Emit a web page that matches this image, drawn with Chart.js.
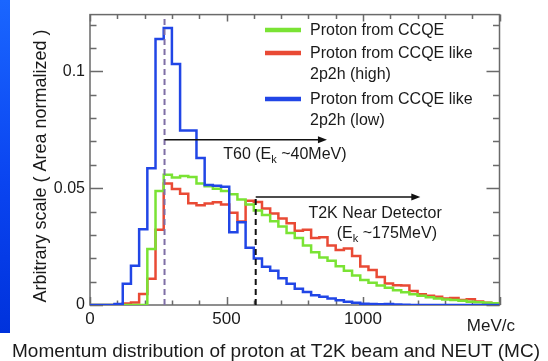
<!DOCTYPE html>
<html>
<head>
<meta charset="utf-8">
<script src="https://cdn.jsdelivr.net/npm/chart.js@4.4.1/dist/chart.umd.min.js"></script>
<style>
  html, body { margin: 0; padding: 0; background: #fff; }
  #wrap { position: relative; width: 548px; height: 361px; overflow: hidden; }
  #side { position: absolute; left: 0; top: 0; width: 10px; height: 333px;
          background: linear-gradient(#1a66ff, #0a44f0 55%, #0032dc); }
  canvas { position: absolute; left: 0; top: 0; }
</style>
</head>
<body>
<div id="wrap">
  <canvas id="c" width="548" height="361"></canvas>
  <div id="side"></div>
</div>
<script>
// Proton momentum histograms, 30 MeV/c bins from 0 to 1500 MeV/c
const binEdges = [0,30,60,90,120,150,180,210,240,270,300,330,360,390,420,450,480,510,540,570,
  600,630,660,690,720,750,780,810,840,870,900,930,960,990,1020,1050,1080,1110,1140,1170,
  1200,1230,1260,1290,1320,1350,1380,1410,1440,1470,1500];

// Proton from CCQE
const ccqe = [0,0,0,0,0,0,0,0.0240,0.0488,0.0558,0.0546,0.0552,0.0548,0.0520,0.0508,0.0498,0.0488,0.0474,0.0452,0.0430,
  0.0405,0.0385,0.0358,0.0336,0.0308,0.0287,0.0255,0.0226,0.0203,0.0189,0.0166,0.0147,0.0126,0.0107,0.0095,0.0084,0.0074,0.0063,0.0055,0.0046,
  0.0040,0.0033,0.0028,0.0024,0.0021,0.0018,0.0014,0.0012,0.0010,0.0008];

// Proton from CCQE like 2p2h (high)
const p2h2High = [0,0,0,0.0003,0.0006,0.0011,0.0047,0.0112,0.0322,0.0520,0.0497,0.0476,0.0436,0.0427,0.0434,0.0440,0.0430,0.0395,0.0357,0.0446,
  0.0441,0.0413,0.0392,0.0370,0.0350,0.0318,0.0322,0.0287,0.0290,0.0255,0.0235,0.0242,0.0210,0.0165,0.0150,0.0120,0.0092,0.0085,0.0084,0.0060,
  0.0046,0.0040,0.0035,0.0028,0.0030,0.0021,0.0025,0.0015,0.0010,0.0007];

// Proton from CCQE like 2p2h (low)
const p2h2Low = [0,0,0,0.0004,0.0091,0.0168,0.0324,0.0585,0.1139,0.1186,0.1032,0.0747,0.0747,0.0629,0.0514,0.0510,0.0506,0.0311,0.0354,0.0245,
  0.0199,0.0164,0.0147,0.0115,0.0091,0.0070,0.0056,0.0042,0.0035,0.0028,0.0020,0.0014,0.0010,0.0005,0.0004,0.0003,0.0004,0.0002,0.0001,0,
  0,0,0,0,0,0,0,0,0,0];

const xTickValues = [0, 500, 1000];
const xTickLabels = ['0', '500', '1000'];
const yTickValues = [0, 0.05, 0.1];
const yTickLabels = ['0', '0.05', '0.1'];

const seriesNames = ['Proton from CCQE', 'Proton from CCQE like\n2p2h (high)', 'Proton from CCQE like\n2p2h (low)'];
const seriesColors = ['#7ae334', '#e94a35', '#2146e6'];

// Threshold momenta (MeV/c) for the two detectors
const t60Momentum = 273;
const ndMomentum = 607;

const X_MAX = 1500, Y_MAX = 0.1243;
const X_MINOR = 100, X_MAJOR = 500, Y_MINOR = 0.01, Y_MAJOR = 0.05;
const FONT = '"Liberation Sans", Arial, Helvetica, sans-serif';

function histPoints(values) {
  return binEdges.map((e, i) => ({ x: e, y: values[Math.min(i, values.length - 1)] }));
}

function arrow(ctx, x1, x2, y) {
  ctx.beginPath(); ctx.moveTo(x1, y); ctx.lineTo(x2 - 6, y); ctx.stroke();
  ctx.beginPath(); ctx.moveTo(x2, y); ctx.lineTo(x2 - 9, y - 3.5); ctx.lineTo(x2 - 9, y + 3.5); ctx.closePath(); ctx.fill();
}

function subText(ctx, x, y, parts) {
  // parts: [text, isSubscript]
  let cx = x;
  for (const [t, sub] of parts) {
    ctx.font = (sub ? '11px ' : '16px ') + FONT;
    ctx.fillText(t, cx, y + (sub ? 4 : 0));
    cx += ctx.measureText(t).width;
  }
}

const decor = {
  id: 'decor',
  beforeDatasetsDraw(chart) {
    const { ctx, chartArea: a, scales: { x, y } } = chart;
    ctx.save();
    ctx.strokeStyle = '#6a6a6a';
    ctx.lineWidth = 1.5;
    ctx.strokeRect(a.left, a.top, a.right - a.left, a.bottom - a.top);
    ctx.beginPath();
    for (let v = 0; v <= X_MAX; v += X_MINOR) {
      const px = Math.round(x.getPixelForValue(v)) + 0.5;
      const major = v % X_MAJOR === 0;
      ctx.moveTo(px, a.bottom); ctx.lineTo(px, a.bottom - (major ? 8 : 4.5));
      ctx.moveTo(px, a.top); ctx.lineTo(px, a.top + (major ? 7 : 4.5));
    }
    for (let i = 0; i * Y_MINOR <= Y_MAX; i++) {
      const v = i * Y_MINOR;
      const py = Math.round(y.getPixelForValue(v)) + 0.5;
      const major = i % Math.round(Y_MAJOR / Y_MINOR) === 0;
      ctx.moveTo(a.left, py); ctx.lineTo(a.left + (major ? 13 : 6.5), py);
      ctx.moveTo(a.right, py); ctx.lineTo(a.right - (major ? 13 : 6.5), py);
    }
    ctx.stroke();
    ctx.restore();
  },
  afterDatasetsDraw(chart) {
    const { ctx, chartArea: a, scales: { x, y } } = chart;
    ctx.save();

    // T60 threshold
    const xT60 = x.getPixelForValue(t60Momentum);
    ctx.strokeStyle = '#7f6fa6'; ctx.lineWidth = 2; ctx.setLineDash([6, 4]);
    ctx.beginPath(); ctx.moveTo(xT60, a.bottom); ctx.lineTo(xT60, y.getPixelForValue(0.1227)); ctx.stroke();

    // Near detector threshold
    const xND = x.getPixelForValue(ndMomentum);
    const yND = y.getPixelForValue(0.0462);
    ctx.strokeStyle = '#111'; ctx.setLineDash([6, 4]);
    ctx.beginPath(); ctx.moveTo(xND, a.bottom); ctx.lineTo(xND, yND); ctx.stroke();
    ctx.setLineDash([]);

    ctx.strokeStyle = '#111'; ctx.fillStyle = '#111'; ctx.lineWidth = 1.5;
    arrow(ctx, xT60, x.getPixelForValue(868), y.getPixelForValue(0.0707));
    arrow(ctx, xND, x.getPixelForValue(1210), yND);

    ctx.fillStyle = '#1a1a1a'; ctx.textBaseline = 'alphabetic'; ctx.textAlign = 'left';
    subText(ctx, x.getPixelForValue(488), y.getPixelForValue(0.0626), [['T60 (E', false], ['k', true], [' ~40MeV)', false]]);
    ctx.font = '16px ' + FONT;
    ctx.fillText('T2K Near Detector', x.getPixelForValue(800), y.getPixelForValue(0.0371));
    subText(ctx, x.getPixelForValue(904), y.getPixelForValue(0.0288), [['(E', false], ['k', true], [' ~175MeV)', false]]);

    // legend
    const legendY = [30, 53, 99];
    ctx.lineWidth = 4.5;
    seriesNames.forEach((name, i) => {
      ctx.strokeStyle = seriesColors[i];
      ctx.beginPath(); ctx.moveTo(265, legendY[i]); ctx.lineTo(301, legendY[i]); ctx.stroke();
      ctx.fillStyle = '#1a1a1a'; ctx.font = '16px ' + FONT;
      name.split('\n').forEach((line, k) => ctx.fillText(line, 310, legendY[i] + 5 + k * 21));
    });

    // axis titles and caption
    ctx.font = '17px ' + FONT;
    ctx.textAlign = 'right';
    ctx.fillText('MeV/c', 515, 331);
    ctx.save();
    ctx.translate(46, 166);
    ctx.rotate(-Math.PI / 2);
    ctx.textAlign = 'center';
    ctx.font = '18px ' + FONT;
    ctx.fillText('Arbitrary scale ( Area normalized )', 0, 0);
    ctx.restore();
    ctx.textAlign = 'left';
    ctx.font = '19px ' + FONT;
    ctx.fillText('Momentum distribution of proton at T2K beam and NEUT (MC)', 12, 357);
    ctx.restore();
  }
};

const mkSet = (label, values, color, order) => ({
  label, data: histPoints(values), borderColor: color, borderWidth: 2.5,
  stepped: true, pointRadius: 0, fill: false, order, tension: 0
});

new Chart(document.getElementById('c'), {
  type: 'line',
  data: {
    datasets: [
      mkSet(seriesNames[2], p2h2Low, seriesColors[2], 0),
      mkSet(seriesNames[0], ccqe, seriesColors[0], 1),
      mkSet(seriesNames[1], p2h2High, seriesColors[1], 2)
    ]
  },
  options: {
    responsive: false,
    animation: false,
    devicePixelRatio: 1,
    layout: { padding: { top: 9, right: 48.5, bottom: 0, left: 0 } },
    plugins: { legend: { display: false }, tooltip: { enabled: false }, title: { display: false } },
    scales: {
      x: {
        type: 'linear', min: 0, max: X_MAX,
        grid: { display: false, drawTicks: false },
        border: { display: false },
        afterFit: s => { s.height = 56; },
        afterBuildTicks: s => { s.ticks = xTickValues.map(v => ({ value: v })); },
        ticks: {
          padding: 4, color: '#1a1a1a', maxRotation: 0, autoSkip: false,
          font: { family: FONT, size: 17 },
          callback: v => xTickLabels[xTickValues.indexOf(v)]
        }
      },
      y: {
        type: 'linear', min: 0, max: Y_MAX,
        grid: { display: false, drawTicks: false },
        border: { display: false },
        afterFit: s => { s.width = 90; },
        afterBuildTicks: s => { s.ticks = yTickValues.map(v => ({ value: v })); },
        ticks: {
          padding: 5, color: '#1a1a1a', autoSkip: false,
          font: { family: FONT, size: 16 },
          callback: v => yTickLabels[yTickValues.indexOf(v)]
        }
      }
    }
  },
  plugins: [decor]
});
</script>
</body>
</html>
